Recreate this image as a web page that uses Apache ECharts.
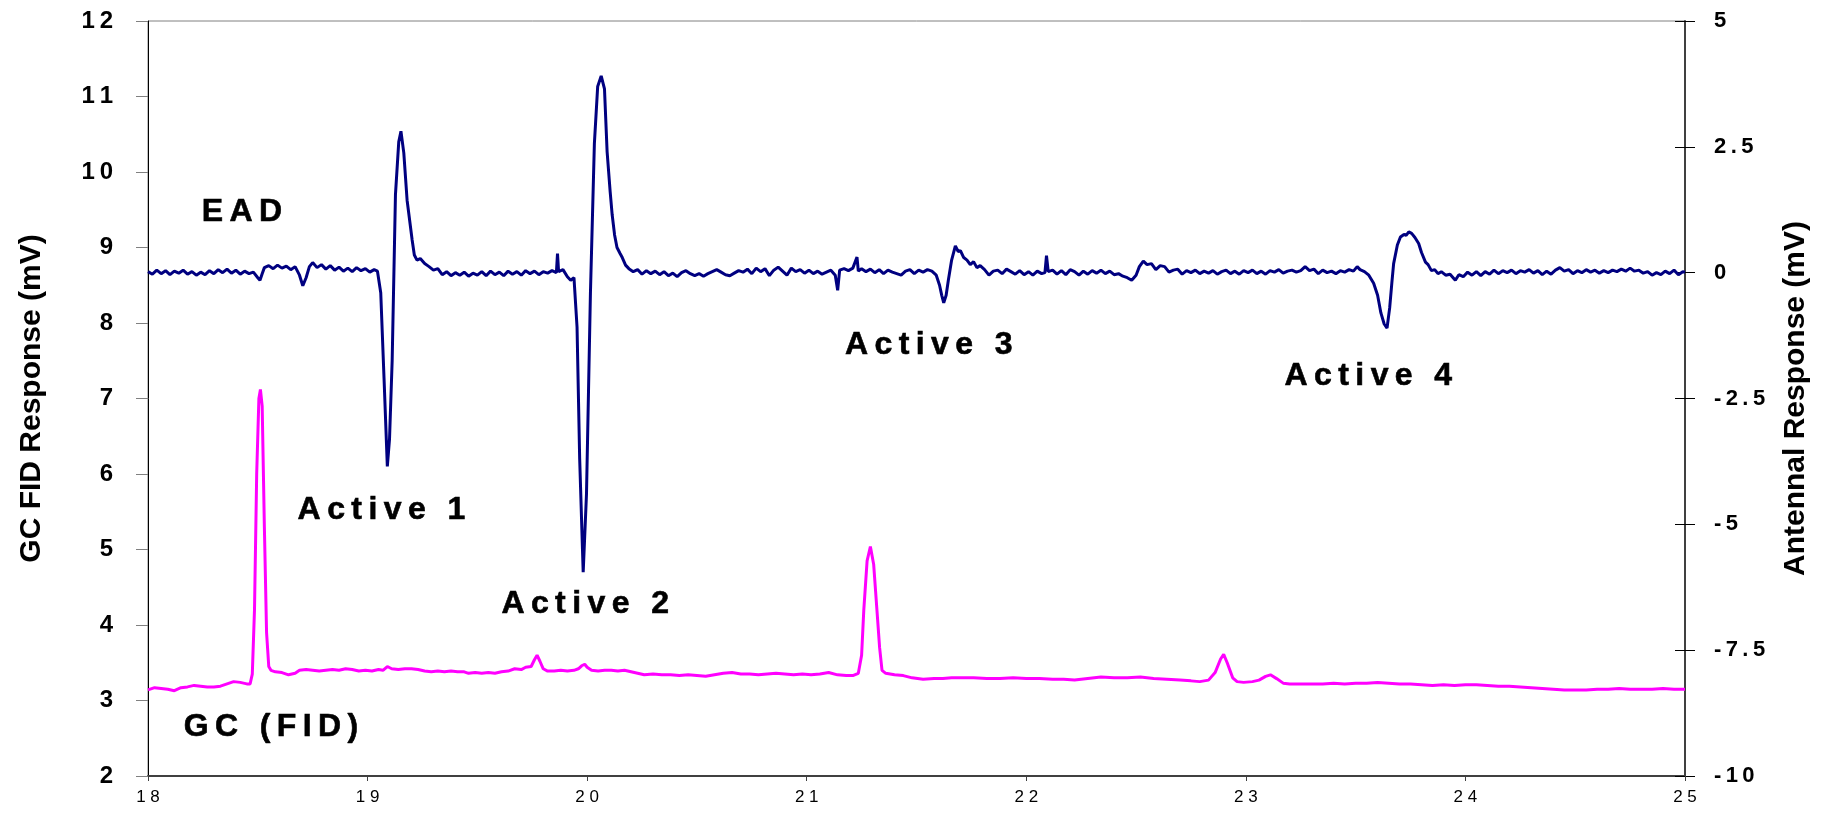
<!DOCTYPE html>
<html>
<head>
<meta charset="utf-8">
<title>GC-EAD</title>
<script src="https://cdn.jsdelivr.net/npm/echarts@6/dist/echarts.min.js"></script>
<style>
  html, body { margin: 0; padding: 0; background: #ffffff; }
  #echart { width: 1823px; height: 814px; }
</style>
</head>
<body>
<div id="echart"></div>
<script>
// retention time (min)
var timeTicks = [18, 19, 20, 21, 22, 23, 24, 25];
var fidTicks = [2, 3, 4, 5, 6, 7, 8, 9, 10, 11, 12];
var eadTicks = [-10, -7.5, -5, -2.5, 0, 2.5, 5];

// antennal (EAD) trace, [time, mV]
var eadTrace = [
	[18.00, 0.02], [18.02, -0.03], [18.04, 0.05], [18.06, -0.02], [18.08, 0.04], [18.10, -0.04],
	[18.12, 0.03], [18.14, -0.01], [18.16, 0.05], [18.18, -0.03], [18.20, 0.02], [18.22, -0.05],
	[18.24, 0.01], [18.26, -0.04], [18.28, 0.04], [18.30, -0.02], [18.32, 0.06], [18.34, 0.00],
	[18.36, 0.07], [18.38, -0.01], [18.40, 0.05], [18.42, -0.03], [18.44, 0.03], [18.46, -0.02],
	[18.48, 0.01], [18.50, -0.10], [18.51, -0.15], [18.52, -0.02], [18.53, 0.10], [18.55, 0.14],
	[18.57, 0.08], [18.59, 0.15], [18.61, 0.09], [18.63, 0.13], [18.65, 0.06], [18.67, 0.12],
	[18.69, -0.05], [18.705, -0.26], [18.72, -0.10], [18.735, 0.12], [18.75, 0.20], [18.77, 0.10],
	[18.79, 0.16], [18.81, 0.07], [18.83, 0.14], [18.85, 0.05], [18.87, 0.11], [18.89, 0.03],
	[18.91, 0.09], [18.93, 0.02], [18.95, 0.10], [18.97, 0.04], [18.99, 0.08], [19.01, 0.01],
	[19.03, 0.06], [19.045, 0.03], [19.06, -0.40], [19.075, -2.10], [19.09, -3.85], [19.10, -3.30],
	[19.112, -1.75], [19.127, 1.55], [19.142, 2.60], [19.152, 2.81], [19.165, 2.38], [19.18, 1.44],
	[19.203, 0.65], [19.213, 0.35], [19.225, 0.25], [19.24, 0.28], [19.26, 0.18], [19.28, 0.12],
	[19.30, 0.05], [19.32, 0.08], [19.34, -0.04], [19.36, 0.02], [19.38, -0.06], [19.40, 0.00],
	[19.42, -0.05], [19.44, 0.01], [19.46, -0.07], [19.48, -0.01], [19.50, -0.05], [19.52, 0.02],
	[19.54, -0.06], [19.56, 0.03], [19.58, -0.04], [19.60, 0.01], [19.62, -0.06], [19.64, 0.03],
	[19.66, -0.03], [19.68, 0.02], [19.70, -0.05], [19.72, 0.04], [19.74, -0.02], [19.76, 0.03],
	[19.78, -0.04], [19.80, 0.02], [19.82, -0.01], [19.84, 0.04], [19.86, 0.00], [19.865, 0.38],
	[19.87, 0.02], [19.89, 0.06], [19.91, -0.08], [19.925, -0.15], [19.94, -0.10], [19.954, -1.08],
	[19.966, -3.70], [19.982, -5.95], [19.997, -4.40], [20.015, -0.40], [20.033, 2.57], [20.048, 3.70],
	[20.064, 3.91], [20.079, 3.65], [20.091, 2.40], [20.105, 1.60], [20.114, 1.15], [20.125, 0.75],
	[20.136, 0.50], [20.15, 0.38], [20.16, 0.30], [20.175, 0.15], [20.19, 0.08], [20.21, 0.02],
	[20.23, 0.06], [20.25, -0.03], [20.27, 0.04], [20.29, -0.02], [20.31, 0.03], [20.33, -0.04],
	[20.35, 0.02], [20.37, -0.06], [20.39, -0.01], [20.41, -0.08], [20.43, 0.00], [20.45, 0.04],
	[20.47, -0.02], [20.49, -0.06], [20.51, -0.02], [20.53, -0.07], [20.55, -0.02], [20.57, 0.02],
	[20.59, 0.06], [20.61, 0.01], [20.63, -0.04], [20.65, -0.06], [20.67, -0.01], [20.69, 0.04],
	[20.71, 0.01], [20.73, 0.07], [20.75, -0.02], [20.77, 0.09], [20.79, 0.02], [20.81, 0.08],
	[20.83, -0.06], [20.85, 0.05], [20.87, 0.11], [20.89, 0.03], [20.91, -0.05], [20.93, 0.09],
	[20.95, 0.02], [20.97, 0.06], [20.99, -0.01], [21.01, 0.05], [21.03, -0.02], [21.05, 0.03],
	[21.07, -0.03], [21.09, 0.01], [21.11, 0.05], [21.13, -0.05], [21.141, -0.35], [21.15, 0.05],
	[21.17, 0.08], [21.19, 0.04], [21.21, 0.09], [21.229, 0.31], [21.235, 0.03], [21.25, 0.08],
	[21.27, 0.02], [21.29, 0.07], [21.31, 0.00], [21.33, 0.06], [21.35, -0.02], [21.37, 0.05],
	[21.39, 0.01], [21.41, -0.02], [21.43, -0.05], [21.45, 0.03], [21.47, 0.06], [21.49, -0.02],
	[21.51, 0.05], [21.53, 0.01], [21.55, 0.06], [21.57, 0.03], [21.59, -0.05], [21.605, -0.25],
	[21.615, -0.45], [21.624, -0.60], [21.635, -0.45], [21.645, -0.15], [21.66, 0.25], [21.677, 0.53],
	[21.69, 0.42], [21.70, 0.44], [21.715, 0.30], [21.73, 0.25], [21.745, 0.16], [21.76, 0.22],
	[21.775, 0.10], [21.79, 0.14], [21.81, 0.06], [21.83, -0.05], [21.85, 0.03], [21.87, 0.05],
	[21.89, -0.02], [21.91, 0.07], [21.93, 0.02], [21.95, -0.03], [21.97, 0.04], [21.99, -0.04],
	[22.01, 0.02], [22.03, -0.05], [22.05, 0.03], [22.07, -0.02], [22.085, 0.00], [22.092, 0.34],
	[22.10, 0.02], [22.12, 0.05], [22.14, -0.03], [22.16, 0.04], [22.18, -0.04], [22.20, 0.06],
	[22.22, 0.02], [22.24, -0.05], [22.26, 0.03], [22.28, -0.03], [22.30, 0.04], [22.32, -0.01],
	[22.34, 0.05], [22.36, -0.02], [22.38, 0.03], [22.40, -0.04], [22.42, -0.02], [22.44, -0.07],
	[22.46, -0.10], [22.48, -0.15], [22.50, -0.05], [22.515, 0.12], [22.533, 0.23], [22.55, 0.16],
	[22.57, 0.18], [22.59, 0.06], [22.61, 0.14], [22.63, 0.12], [22.65, 0.01], [22.67, 0.05],
	[22.69, 0.07], [22.71, -0.03], [22.73, 0.04], [22.75, 0.00], [22.77, 0.05], [22.79, -0.02],
	[22.81, 0.03], [22.83, -0.01], [22.85, 0.04], [22.87, -0.03], [22.89, 0.02], [22.91, 0.05],
	[22.93, -0.02], [22.95, 0.03], [22.97, -0.03], [22.99, 0.04], [23.01, 0.00], [23.03, 0.05],
	[23.05, -0.02], [23.07, 0.03], [23.09, -0.03], [23.11, 0.04], [23.13, 0.01], [23.15, 0.06],
	[23.17, -0.01], [23.19, 0.03], [23.21, 0.05], [23.23, 0.01], [23.25, 0.04], [23.27, 0.12],
	[23.29, 0.04], [23.31, 0.07], [23.33, -0.02], [23.35, 0.05], [23.37, 0.00], [23.39, 0.03],
	[23.41, -0.02], [23.43, 0.04], [23.45, 0.01], [23.47, 0.06], [23.49, 0.03], [23.507, 0.12],
	[23.52, 0.06], [23.54, 0.02], [23.56, -0.05], [23.582, -0.21], [23.60, -0.45], [23.615, -0.80],
	[23.63, -1.02], [23.643, -1.10], [23.655, -0.70], [23.665, -0.20], [23.673, 0.18], [23.69, 0.55],
	[23.704, 0.71], [23.72, 0.76], [23.73, 0.74], [23.742, 0.81], [23.755, 0.78], [23.77, 0.70],
	[23.787, 0.58], [23.80, 0.40], [23.818, 0.21], [23.83, 0.16], [23.845, 0.04], [23.86, 0.06],
	[23.875, -0.02], [23.89, 0.02], [23.91, -0.05], [23.93, -0.03], [23.954, -0.15], [23.97, -0.04],
	[23.99, -0.08], [24.01, 0.01], [24.03, -0.05], [24.05, 0.02], [24.07, -0.06], [24.09, 0.02],
	[24.11, -0.03], [24.13, 0.05], [24.15, -0.02], [24.17, 0.04], [24.19, 0.00], [24.21, 0.05],
	[24.23, -0.02], [24.25, 0.04], [24.27, 0.01], [24.29, 0.06], [24.31, -0.01], [24.33, 0.04],
	[24.35, -0.04], [24.37, 0.03], [24.39, -0.03], [24.41, 0.05], [24.43, 0.10], [24.45, 0.03],
	[24.47, 0.06], [24.49, -0.02], [24.51, 0.04], [24.53, 0.00], [24.55, 0.06], [24.57, 0.01],
	[24.59, 0.05], [24.61, -0.01], [24.63, 0.04], [24.65, 0.00], [24.67, 0.05], [24.69, 0.02],
	[24.71, 0.07], [24.73, 0.03], [24.75, 0.09], [24.77, 0.03], [24.79, 0.05], [24.81, -0.01],
	[24.83, 0.02], [24.85, -0.05], [24.87, 0.00], [24.89, -0.04], [24.91, 0.03], [24.93, -0.02],
	[24.95, 0.05], [24.97, -0.04], [24.99, 0.02], [25.00, 0.01]
];

// GC (FID) trace, [time, mV]
var fidTrace = [
	[18.00, 3.14], [18.03, 3.17], [18.06, 3.16], [18.09, 3.15], [18.12, 3.13], [18.15, 3.17],
	[18.18, 3.18], [18.21, 3.20], [18.24, 3.19], [18.27, 3.18], [18.30, 3.18], [18.33, 3.19],
	[18.36, 3.22], [18.39, 3.25], [18.42, 3.24], [18.45, 3.22], [18.465, 3.22], [18.475, 3.35],
	[18.485, 4.20], [18.495, 6.00], [18.505, 7.00], [18.512, 7.12], [18.52, 6.90], [18.53, 5.30],
	[18.54, 3.90], [18.55, 3.45], [18.56, 3.40], [18.58, 3.38], [18.61, 3.37], [18.64, 3.34],
	[18.67, 3.36], [18.69, 3.40], [18.72, 3.41], [18.75, 3.40], [18.78, 3.39], [18.81, 3.40],
	[18.84, 3.41], [18.87, 3.40], [18.90, 3.42], [18.93, 3.41], [18.96, 3.39], [18.99, 3.40],
	[19.02, 3.39], [19.05, 3.41], [19.07, 3.40], [19.09, 3.45], [19.11, 3.42], [19.14, 3.41],
	[19.17, 3.42], [19.20, 3.42], [19.23, 3.41], [19.26, 3.39], [19.29, 3.38], [19.32, 3.39],
	[19.35, 3.38], [19.38, 3.39], [19.41, 3.38], [19.44, 3.38], [19.46, 3.36], [19.49, 3.37],
	[19.52, 3.36], [19.55, 3.37], [19.58, 3.36], [19.61, 3.38], [19.64, 3.39], [19.67, 3.42],
	[19.70, 3.41], [19.72, 3.44], [19.745, 3.45], [19.76, 3.54], [19.772, 3.60], [19.785, 3.52],
	[19.80, 3.42], [19.82, 3.39], [19.85, 3.39], [19.88, 3.40], [19.91, 3.39], [19.94, 3.40],
	[19.96, 3.42], [19.975, 3.46], [19.989, 3.48], [20.00, 3.44], [20.02, 3.40], [20.05, 3.39],
	[20.08, 3.40], [20.11, 3.40], [20.14, 3.39], [20.17, 3.40], [20.20, 3.38], [20.23, 3.36],
	[20.26, 3.34], [20.30, 3.35], [20.34, 3.34], [20.38, 3.34], [20.42, 3.33], [20.46, 3.34],
	[20.50, 3.33], [20.54, 3.32], [20.58, 3.34], [20.62, 3.36], [20.66, 3.37], [20.70, 3.35],
	[20.74, 3.35], [20.78, 3.34], [20.82, 3.35], [20.86, 3.36], [20.90, 3.35], [20.94, 3.34],
	[20.98, 3.35], [21.02, 3.34], [21.06, 3.35], [21.10, 3.37], [21.14, 3.34], [21.18, 3.33],
	[21.21, 3.33], [21.235, 3.36], [21.25, 3.60], [21.26, 4.20], [21.275, 4.85], [21.29, 5.04],
	[21.305, 4.80], [21.32, 4.19], [21.332, 3.70], [21.343, 3.40], [21.36, 3.36], [21.40, 3.34],
	[21.44, 3.33], [21.48, 3.30], [21.53, 3.28], [21.58, 3.29], [21.62, 3.29], [21.66, 3.30],
	[21.70, 3.30], [21.76, 3.30], [21.82, 3.29], [21.88, 3.29], [21.94, 3.30], [22.00, 3.29],
	[22.06, 3.29], [22.12, 3.28], [22.17, 3.28], [22.22, 3.27], [22.28, 3.29], [22.34, 3.31],
	[22.40, 3.30], [22.46, 3.30], [22.52, 3.31], [22.58, 3.29], [22.64, 3.28], [22.70, 3.27],
	[22.75, 3.26], [22.79, 3.25], [22.83, 3.27], [22.86, 3.37], [22.885, 3.55], [22.899, 3.61],
	[22.915, 3.50], [22.94, 3.30], [22.96, 3.25], [22.99, 3.24], [23.03, 3.25], [23.06, 3.27],
	[23.09, 3.32], [23.112, 3.34], [23.14, 3.29], [23.17, 3.23], [23.20, 3.22], [23.25, 3.22],
	[23.30, 3.22], [23.35, 3.22], [23.40, 3.23], [23.45, 3.22], [23.50, 3.23], [23.55, 3.23],
	[23.60, 3.24], [23.65, 3.23], [23.70, 3.22], [23.75, 3.22], [23.80, 3.21], [23.85, 3.20],
	[23.90, 3.21], [23.95, 3.20], [24.00, 3.21], [24.05, 3.21], [24.10, 3.20], [24.15, 3.19],
	[24.20, 3.19], [24.25, 3.18], [24.30, 3.17], [24.35, 3.16], [24.40, 3.15], [24.45, 3.14],
	[24.50, 3.14], [24.55, 3.14], [24.60, 3.15], [24.65, 3.15], [24.70, 3.16], [24.75, 3.15],
	[24.80, 3.15], [24.85, 3.15], [24.90, 3.16], [24.95, 3.15], [25.00, 3.15]
];

// annotations, placed in time / GC FID units
var noteText = ['EAD', 'Active 1', 'Active 2', 'Active 3', 'Active 4', 'GC (FID)'];
var noteTime = [18.428, 19.063, 19.991, 21.556, 23.558, 18.56];
var noteLevel = [9.47, 5.52, 4.27, 7.71, 7.29, 2.65];

// the original spreads its letters out a little
function spaced(s, gap) {
	return String(s).split('').join(gap);
}

var notes = [];
for (var i = 0; i < noteText.length; i++) {
	notes.push([noteTime[i], noteLevel[i], noteText[i]]);
}

var FONT = '"Liberation Sans", Arial, sans-serif';

var eChart = echarts.init(document.getElementById('echart'));

var eChartOption = {
	animation: false,
	backgroundColor: '#ffffff',
	textStyle: { fontFamily: FONT },
	grid: {
		left: 148,
		right: 138,
		top: 21,
		bottom: 38,
		show: true,
		borderColor: '#808080',
		borderWidth: 1,
		containLabel: false
	},
	xAxis: {
		type: 'value',
		min: timeTicks[0],
		max: timeTicks[timeTicks.length - 1],
		interval: 1,
		axisLine: { show: true, onZero: false, lineStyle: { color: '#404040', width: 2 } },
		axisTick: { show: true, inside: false, length: 5, lineStyle: { color: '#404040' } },
		splitLine: { show: false },
		axisLabel: {
			margin: 13,
			fontSize: 17,
			color: '#000000',
			fontFamily: FONT,
			formatter: function(v) { return spaced(v, ' '); }
		}
	},
	yAxis: [
		{
			type: 'value',
			position: 'left',
			min: fidTicks[0],
			max: fidTicks[fidTicks.length - 1],
			interval: 1,
			name: 'GC FID Response (mV)',
			nameLocation: 'middle',
			nameRotate: 90,
			nameGap: 101,
			nameTextStyle: { fontSize: 30, fontWeight: 'bold', color: '#000000', fontFamily: FONT },
			axisLine: { show: true, onZero: false, lineStyle: { color: '#000000', width: 1 } },
			axisTick: { show: true, inside: false, length: 12, lineStyle: { color: '#808080' } },
			splitLine: { show: false },
			axisLabel: {
				margin: 35,
				fontSize: 24,
				fontWeight: 'bold',
				color: '#000000',
				fontFamily: FONT,
				formatter: function(v) { return spaced(v, '\u2009'); }
			}
		},
		{
			type: 'value',
			position: 'right',
			min: eadTicks[0],
			max: eadTicks[eadTicks.length - 1],
			interval: 2.5,
			name: 'Antennal Response (mV)',
			nameLocation: 'middle',
			nameRotate: 90,
			nameGap: 96,
			nameTextStyle: { fontSize: 30, fontWeight: 'bold', color: '#000000', fontFamily: FONT },
			axisLine: { show: true, onZero: false, lineStyle: { color: '#404040', width: 2 } },
			axisTick: { show: true, inside: false, length: 10, lineStyle: { color: '#000000' } },
			splitLine: { show: false },
			axisLabel: {
				margin: 29,
				fontSize: 22,
				fontWeight: 'bold',
				color: '#000000',
				fontFamily: FONT,
				formatter: function(v) { return spaced(v, '\u2009'); }
			}
		},
		{
			// inner half of the right-hand ticks, which cross the axis
			type: 'value',
			position: 'right',
			min: eadTicks[0],
			max: eadTicks[eadTicks.length - 1],
			interval: 2.5,
			axisLine: { show: false, onZero: false },
			axisTick: { show: true, inside: true, length: 10, lineStyle: { color: '#000000' } },
			axisLabel: { show: false },
			splitLine: { show: false }
		}
	],
	series: [
		{
			name: 'GC (FID)',
			type: 'line',
			yAxisIndex: 0,
			data: fidTrace,
			showSymbol: false,
			smooth: false,
			lineStyle: { color: '#ff00ff', width: 3 },
			itemStyle: { color: '#ff00ff' },
			z: 3
		},
		{
			name: 'EAD',
			type: 'line',
			yAxisIndex: 1,
			data: eadTrace,
			showSymbol: false,
			smooth: false,
			lineStyle: { color: '#000080', width: 3 },
			itemStyle: { color: '#000080' },
			z: 4
		},
		{
			name: 'notes',
			type: 'scatter',
			yAxisIndex: 0,
			data: notes,
			symbolSize: 1,
			silent: true,
			itemStyle: { color: 'rgba(255,255,255,0)', opacity: 1 },
			label: {
				show: true,
				position: 'inside',
				color: '#000000',
				opacity: 1,
				fontSize: 32,
				fontWeight: 'bold',
				fontFamily: FONT,
				textBorderColor: '#000000',
				textBorderWidth: 0.6,
				formatter: function(p) { return spaced(p.data[2], '\u2009'); }
			},
			z: 5
		}
	]
};

eChart.setOption(eChartOption);
</script>
</body>
</html>
